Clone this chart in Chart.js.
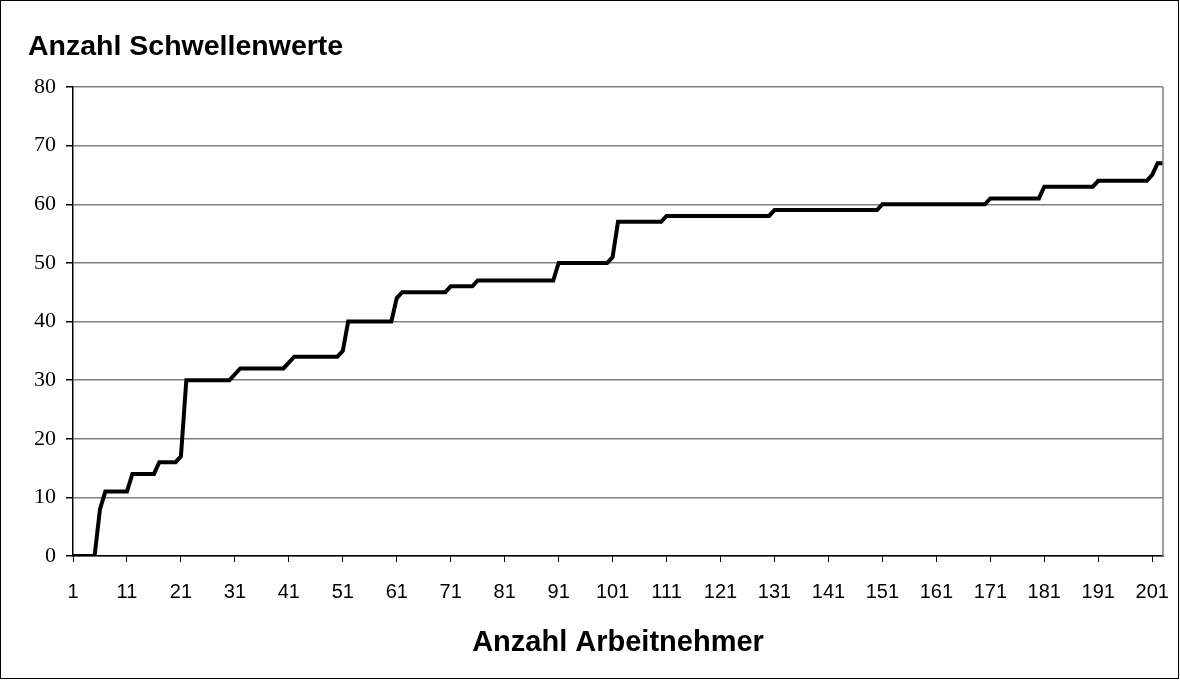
<!DOCTYPE html>
<html>
<head>
<meta charset="utf-8">
<script src="https://cdn.jsdelivr.net/npm/chart.js@4.4.1/dist/chart.umd.min.js"></script>
<style>
  html, body { margin: 0; padding: 0; background: #ffffff; }
  #wrap { width: 1180px; height: 680px; position: relative; }
</style>
</head>
<body>
<div id="wrap"><canvas id="c" width="1180" height="680"></canvas></div>
<script>
// ---- data ----
const chartTitle = 'Anzahl Schwellenwerte';
const xAxisTitle = 'Anzahl Arbeitnehmer';
const categoryCount = 203;
const categories = [];
for (let i = 1; i <= categoryCount; i++) categories.push(String(i));
const xTickLabels = ['1','11','21','31','41','51','61','71','81','91','101','111','121','131','141','151','161','171','181','191','201'];
const yTicks = [0, 10, 20, 30, 40, 50, 60, 70, 80];
const thresholds = [
  0,0,0,0,0,
  8,
  11,11,11,11,11,
  14,14,14,14,14,
  16,16,16,16,
  17,
  30,30,30,30,30,30,30,30,30,
  31,
  32,32,32,32,32,32,32,32,32,
  33,
  34,34,34,34,34,34,34,34,34,
  35,
  40,40,40,40,40,40,40,40,40,
  44,
  45,45,45,45,45,45,45,45,45,
  46,46,46,46,46,
  47,47,47,47,47,47,47,47,47,47,47,47,47,47,47,
  50,50,50,50,50,50,50,50,50,50,
  51,
  57,57,57,57,57,57,57,57,57,
  58,58,58,58,58,58,58,58,58,58,58,58,58,58,58,58,58,58,58,58,
  59,59,59,59,59,59,59,59,59,59,59,59,59,59,59,59,59,59,59,59,
  60,60,60,60,60,60,60,60,60,60,60,60,60,60,60,60,60,60,60,60,
  61,61,61,61,61,61,61,61,61,61,
  63,63,63,63,63,63,63,63,63,63,
  64,64,64,64,64,64,64,64,64,64,
  65,
  67,67
];

// ---- decorations ----
const frame = {
  id: 'frame',
  beforeDraw(chart) {
    const ctx = chart.ctx;
    ctx.save();
    ctx.fillStyle = '#ffffff';
    ctx.fillRect(0, 0, chart.width, chart.height);
    ctx.restore();
  },
  afterDraw(chart) {
    const ctx = chart.ctx;
    const a = chart.chartArea;
    ctx.save();
    ctx.strokeStyle = '#808080';
    ctx.lineWidth = 1.5;
    ctx.beginPath();
    ctx.moveTo(a.right, a.top);
    ctx.lineTo(a.right, a.bottom);
    ctx.stroke();
    ctx.strokeStyle = '#000000';
    ctx.lineWidth = 1;
    ctx.strokeRect(0.5, 0.5, chart.width - 2, chart.height - 2);
    ctx.restore();
  }
};

new Chart(document.getElementById('c'), {
  type: 'line',
  data: {
    labels: categories,
    datasets: [{
      data: thresholds,
      borderColor: '#000000',
      borderWidth: 4,
      pointRadius: 0,
      tension: 0,
      fill: false
    }]
  },
  options: {
    responsive: false,
    animation: false,
    devicePixelRatio: 1,
    layout: { padding: { left: 28, right: 17, top: 0, bottom: 0 } },
    plugins: {
      legend: { display: false },
      tooltip: { enabled: false },
      title: {
        display: true,
        text: chartTitle,
        align: 'start',
        color: '#000000',
        font: { family: 'Liberation Sans', size: 28.5, weight: 'bold', lineHeight: 1.2 },
        padding: { top: 30, bottom: 22.8 }
      }
    },
    scales: {
      x: {
        type: 'category',
        offset: false,
        afterFit(scale) {
          scale.height = 124;
          scale.paddingLeft = 0;
          scale.paddingRight = 0;
        },
        border: { display: true, color: '#000000', width: 1.5 },
        grid: {
          display: true,
          drawOnChartArea: false,
          drawTicks: true,
          tickLength: 6,
          tickColor: '#000000'
        },
        ticks: {
          autoSkip: false,
          maxRotation: 0,
          minRotation: 0,
          padding: 18,
          color: '#000000',
          font: { family: 'Liberation Sans', size: 20 },
          callback(value, index) {
            const lab = this.getLabelForValue(value);
            return xTickLabels.includes(lab) ? lab : null;
          }
        },
        title: {
          display: true,
          text: xAxisTitle,
          color: '#000000',
          font: { family: 'Liberation Sans', size: 29, weight: 'bold', lineHeight: 1.2 },
          padding: { top: 0, bottom: 20 }
        }
      },
      y: {
        min: 0,
        max: 80,
        afterFit(scale) { scale.width = 45; },
        afterBuildTicks(scale) { scale.ticks = yTicks.map(v => ({ value: v })); },
        border: { display: true, color: '#000000', width: 1.5 },
        grid: {
          color: '#808080',
          lineWidth: 1.5,
          drawTicks: true,
          tickLength: 7,
          tickColor: '#000000'
        },
        ticks: {
          padding: 10,
          color: '#000000',
          font: { family: 'Liberation Serif', size: 22 }
        }
      }
    }
  },
  plugins: [frame]
});
</script>
</body>
</html>
